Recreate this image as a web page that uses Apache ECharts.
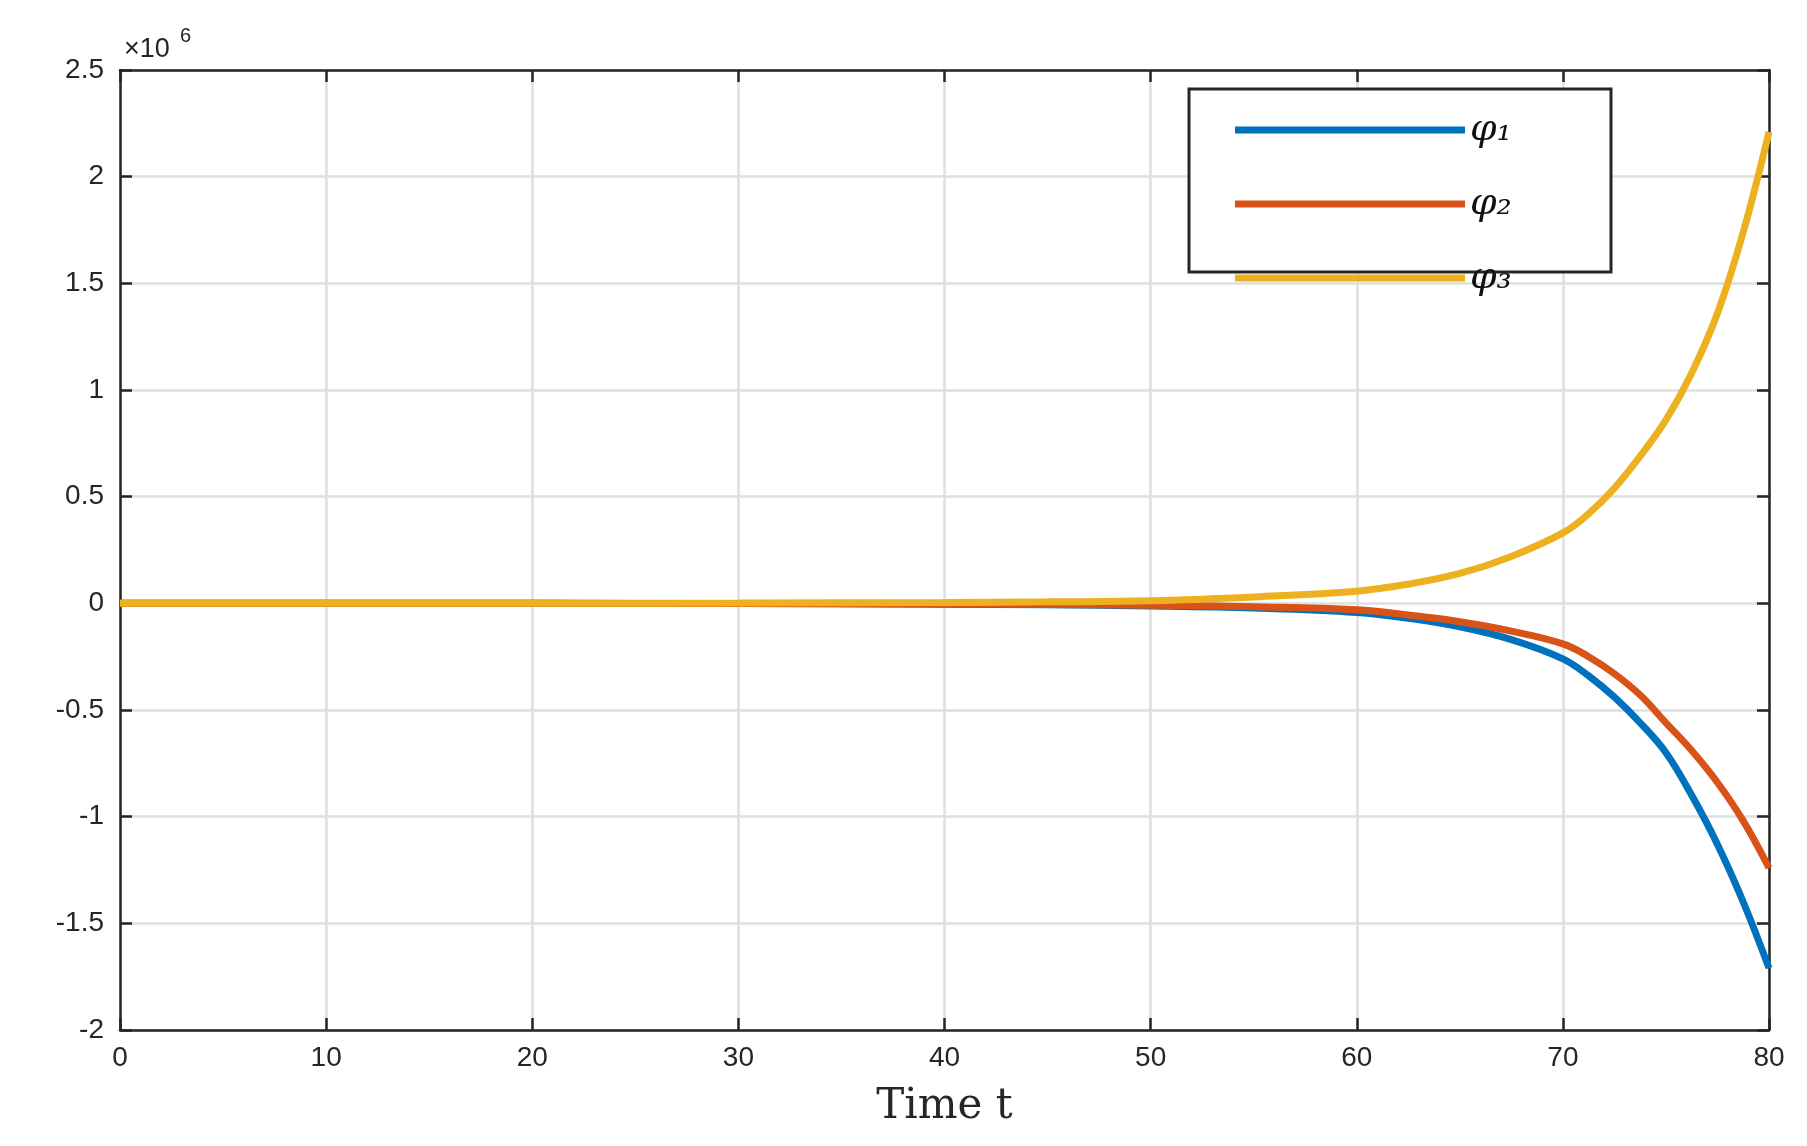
<!DOCTYPE html>
<html><head><meta charset="utf-8">
<script src="https://cdn.jsdelivr.net/npm/echarts@6/dist/echarts.min.js"></script>
<style>html,body{margin:0;padding:0;background:#fff}#c{width:1807px;height:1146px}</style>
</head><body><div id="c"></div>
<script>
const times = [0,10,20,30,40,45,50,55,60,62.5,65,67.5,70,71.25,72.5,73.75,75,76.25,77.5,78.75,80];
const phi1 = [0,0,0,-0.001,-0.004,-0.007,-0.012,-0.022,-0.043,-0.07,-0.11,-0.17,-0.26,-0.34,-0.44,-0.56,-0.70,-0.90,-1.13,-1.40,-1.71];
const phi2 = [0,0,0,-0.001,-0.003,-0.005,-0.009,-0.016,-0.03,-0.055,-0.086,-0.13,-0.19,-0.25,-0.33,-0.43,-0.56,-0.69,-0.84,-1.02,-1.24];
const phi3 = [0,0,0,0.001,0.004,0.007,0.012,0.03,0.057,0.09,0.14,0.22,0.33,0.42,0.54,0.69,0.86,1.08,1.36,1.74,2.21];
const names = ['φ₁','φ₂','φ₃'];
const colors = ['#0072BD','#D95319','#EDB120'];
const mk = a => times.map((t,i)=>[t,a[i]]);
const ch = echarts.init(document.getElementById('c'));
const ax = {color:'#262626',width:2.5};
const lab = {fontSize:28,color:'#262626',fontFamily:'Liberation Sans'};
const grid = {show:true,lineStyle:{color:'#dfdfdf',width:2.5}};
ch.setOption({
  animation:false,
  grid:{left:120,right:38,top:70,bottom:116},
  xAxis:[{type:'value',min:0,max:80,interval:10,
    name:'Time t',nameLocation:'middle',nameGap:56,
    nameTextStyle:{fontFamily:'DejaVu Serif',fontSize:42,color:'#262626'},
    axisLine:{show:true,onZero:false,lineStyle:ax},
    axisTick:{inside:true,length:12,lineStyle:ax},
    axisLabel:Object.assign({margin:14},lab),
    splitLine:grid},
   {type:'value',position:'top',min:0,max:80,interval:10,
    axisLine:{show:true,onZero:false,lineStyle:ax},
    axisTick:{inside:true,length:12,lineStyle:ax},axisLabel:{show:false},splitLine:{show:false}}],
  yAxis:[{type:'value',min:-2,max:2.5,interval:0.5,
    axisLine:{show:true,onZero:false,lineStyle:ax},
    axisTick:{inside:true,length:12,lineStyle:ax},
    axisLabel:Object.assign({margin:16,formatter:v=>String(v)},lab),
    splitLine:grid},
   {type:'value',position:'right',min:-2,max:2.5,interval:0.5,
    axisLine:{show:true,onZero:false,lineStyle:ax},
    axisTick:{inside:true,length:12,lineStyle:ax},axisLabel:{show:false},splitLine:{show:false}}],
  graphic:[
    {type:'text',left:124,top:36,style:{text:'×10',fontSize:27,fill:'#262626',fontFamily:'Liberation Sans'}},
    {type:'text',left:180,top:26,style:{text:'6',fontSize:20,fill:'#262626',fontFamily:'Liberation Sans'}},
    {type:'rect',shape:{x:1189,y:89,width:422,height:183},style:{fill:'#fff',stroke:'#262626',lineWidth:3},z:50}
  ],
  legend:{orient:'vertical',left:1230,top:106,itemWidth:230,itemHeight:7,itemGap:36,z:60,
    icon:'rect',
    textStyle:{fontFamily:'DejaVu Serif',fontStyle:'italic',fontSize:38,color:'#111'},
    data:names},
  series:[0,1,2].map(i=>({name:names[i],type:'line',data:mk([phi1,phi2,phi3][i]),
    smooth:0.4,showSymbol:false,symbol:'none',lineStyle:{color:colors[i],width:7},itemStyle:{color:colors[i]}}))
});
</script></body></html>
